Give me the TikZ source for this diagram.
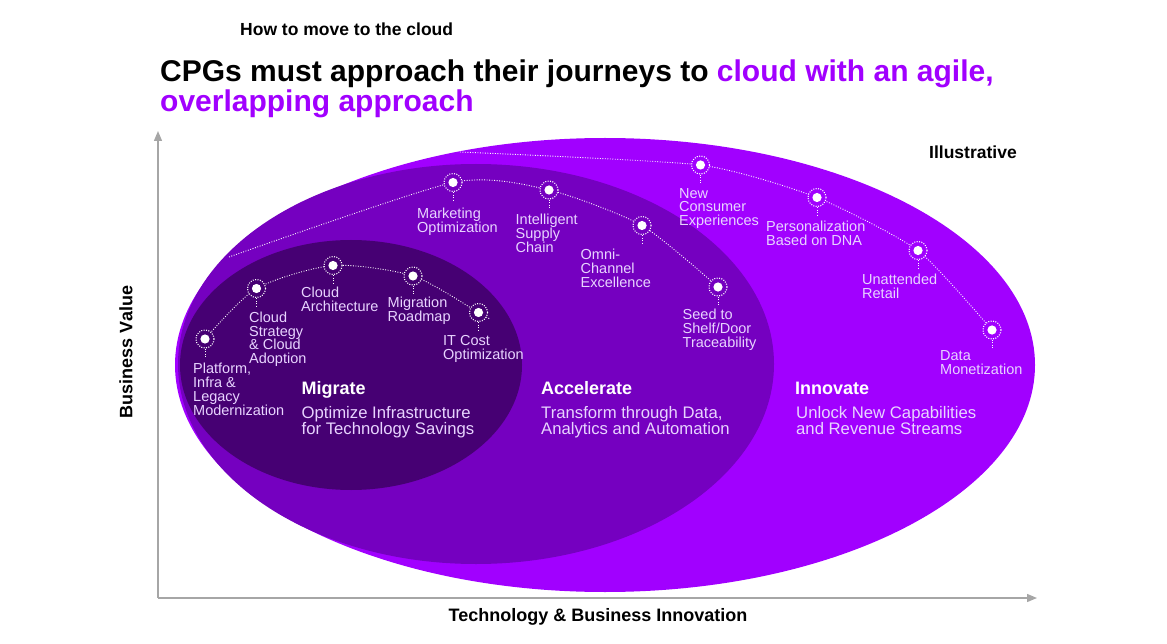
\documentclass[tikz,border=0pt]{standalone}
\usepackage{fontspec}
\setmainfont{Liberation Sans}
\usetikzlibrary{arrows.meta}
\usepackage{xcolor}
\definecolor{innov}{HTML}{A100FF}
\definecolor{accel}{HTML}{7500C0}
\definecolor{migr}{HTML}{460073}
\definecolor{lavender}{HTML}{E8D4FF}
\definecolor{axisgray}{HTML}{A6A6A6}
\pgfdeclarelayer{ovals}
\pgfdeclarelayer{trails}
\pgfsetlayers{ovals,trails,main}
\tikzset{
  waypt/.style={circle, draw=white, fill=#1, line width=1.1pt, dash pattern=on 1pt off 1.4pt,
    minimum size=18pt, inner sep=0pt,
    path picture={\fill[white] (path picture bounding box.center) circle (4.6pt);}},
  stem/.style={white, line width=1pt, dash pattern=on 1pt off 1.5pt},
  trail/.style={white, line width=0.9pt, dash pattern=on 0.9pt off 1.6pt},
  lbl/.style={anchor=north west, inner sep=0pt, align=left, text=lavender, font=\fontsize{14.5}{13.8}\selectfont},
  phase/.style={anchor=north west, inner sep=0pt, text=white, font=\fontsize{18}{20}\selectfont\bfseries},
  goal/.style={anchor=north west, inner sep=0pt, align=left, text=lavender, font=\fontsize{16.7}{16.2}\selectfont},
  axis/.style={axisgray, line width=1.4pt, -{Triangle[length=10pt,width=8pt]}},
  axlbl/.style={inner sep=0pt, font=\fontsize{18}{20}\selectfont\bfseries}
}

\begin{document}
\begin{tikzpicture}[x=1pt,y=-1pt]
  \useasboundingbox (0,0) rectangle (1167,644);
  % headline
  \node[anchor=base west, inner sep=0pt, font=\fontsize{17.5}{20}\selectfont\bfseries] (kicker) at (240,36) {How to move to the cloud};
  \node[anchor=base west, inner sep=0pt, font=\fontsize{30}{32}\selectfont\bfseries] (title) at (160,82)
    {CPGs must approach their journeys to \textcolor{innov}{cloud with an agile,}};
  \node[anchor=base west, inner sep=0pt, text=innov, font=\fontsize{30}{32}\selectfont\bfseries] (title2) at (160,112) {overlapping approach};
  \node[anchor=base west, inner sep=0pt, font=\fontsize{17.5}{20}\selectfont\bfseries] (illus) at (929,159) {Illustrative};

  % axes
  \coordinate (origin) at (158,598);
  \coordinate (ytip) at (158,131);
  \coordinate (xtip) at (1037,598);
  \draw[axis] (origin) -- (ytip);
  \draw[axis] (origin) -- (xtip);
  \node[axlbl, rotate=90] (yname) at (126,352) {Business Value};
  \node[axlbl] (xname) at (598,617) {Technology \& Business Innovation};

  % the three phases
  \begin{pgfonlayer}{ovals}
    \fill[innov] (605,365) ellipse [x radius=430, y radius=227];
    \fill[accel] (476,364) ellipse [x radius=298, y radius=200];
    \fill[migr] (351,365) ellipse [x radius=171, y radius=125];
  \end{pgfonlayer}

  % milestones
  \node[waypt=migr] (platform) at (205,339) {};
  \node[waypt=migr] (strategy) at (256.5,288.5) {};
  \node[waypt=migr] (arch) at (333,265.5) {};
  \node[waypt=migr] (roadmap) at (413,276) {};
  \node[waypt=migr] (itcost) at (478.5,312.5) {};
  \coordinate (migrend) at (490,319);

  \coordinate (accelstart) at (229,257);
  \node[waypt=accel] (marketing) at (453,182.5) {};
  \node[waypt=accel] (supply) at (549,190) {};
  \node[waypt=accel] (omni) at (642,225.5) {};
  \node[waypt=accel] (seed) at (718,287) {};

  \coordinate (innovstart) at (460,152);
  \node[waypt=innov] (consumer) at (700.5,165) {};
  \node[waypt=innov] (person) at (817,197.5) {};
  \node[waypt=innov] (unatt) at (918,250.5) {};
  \node[waypt=innov] (datamon) at (992,330) {};

  \foreach \m in {platform,strategy,arch,roadmap,itcost,marketing,supply,omni,seed,consumer,person,unatt,datamon}
    \draw[stem] (\m.south) -- ++(0,8);

  \begin{pgfonlayer}{trails}
    \draw[trail] plot[smooth, tension=0.45] coordinates {(platform) (strategy) (arch) (roadmap) (itcost) (migrend)};
    \draw[trail] plot[smooth, tension=0.4] coordinates {(accelstart) (marketing) (supply) (omni) (seed)};
    \draw[trail] plot[smooth, tension=0.35] coordinates {(innovstart) (consumer) (person) (unatt) (datamon)};
  \end{pgfonlayer}

  % milestone labels
  \node[lbl] (platformlbl) at (193,363) {Platform,\\Infra \&\\Legacy\\Modernization};
  \node[lbl] (strategylbl) at (249,311.5) {Cloud\\Strategy\\\& Cloud\\Adoption};
  \node[lbl] (archlbl) at (301,287) {Cloud\\Architecture};
  \node[lbl] (roadmaplbl) at (387.5,296.5) {Migration\\Roadmap};
  \node[lbl] (itcostlbl) at (443,335) {IT Cost\\Optimization};
  \node[lbl] (marketinglbl) at (417,207.5) {Marketing\\Optimization};
  \node[lbl] (supplylbl) at (515.5,214) {Intelligent\\Supply\\Chain};
  \node[lbl] (omnilbl) at (580.5,249) {Omni-\\Channel\\Excellence};
  \node[lbl] (seedlbl) at (682.5,309) {Seed to\\Shelf/Door\\Traceability};
  \node[lbl] (consumerlbl) at (679,188) {New\\Consumer\\Experiences};
  \node[lbl] (personlbl) at (766,220.5) {Personalization\\Based on DNA};
  \node[lbl] (unattlbl) at (862,274) {Unattended\\Retail};
  \node[lbl] (datamonlbl) at (940,350.5) {Data\\Monetization};

  % phase names
  \node[phase] (migrate) at (301.5,381.5) {Migrate};
  \node[goal] (migrategoal) at (301.5,406) {Optimize Infrastructure\\for Technology Savings};
  \node[phase] (accelerate) at (541,381.5) {Accelerate};
  \node[goal] (accelerategoal) at (541,406) {Transform through Data,\\Analytics and Automation};
  \node[phase] (innovate) at (795,381.5) {Innovate};
  \node[goal] (innovategoal) at (796,406) {Unlock New Capabilities\\and Revenue Streams};
\end{tikzpicture}
\end{document}
